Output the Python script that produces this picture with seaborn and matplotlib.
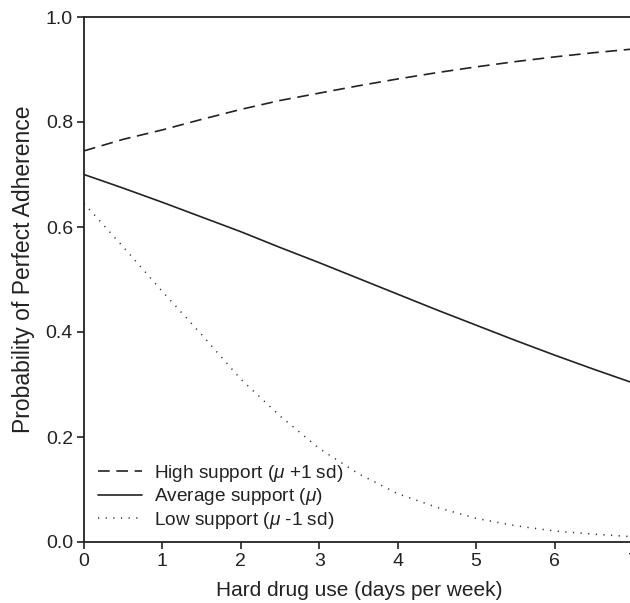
import matplotlib
matplotlib.use("Agg")
import matplotlib.pyplot as plt
import seaborn as sns
import pandas as pd

days = [0, 0.5, 1, 1.5, 2, 2.5, 3, 3.5, 4, 4.5, 5, 5.5, 6, 6.5, 7]
high_support = [0.745, 0.767, 0.785, 0.805, 0.824, 0.841, 0.855, 0.869, 0.882, 0.894, 0.905, 0.915, 0.924, 0.932, 0.939]
avg_support = [0.700, 0.674, 0.647, 0.619, 0.591, 0.561, 0.532, 0.502, 0.472, 0.442, 0.413, 0.384, 0.356, 0.329, 0.303]
low_support = [0.645, 0.562, 0.477, 0.395, 0.310, 0.240, 0.178, 0.130, 0.092, 0.066, 0.045, 0.031, 0.021, 0.015, 0.010]

labels = [r"High support ($\mu$ +1 sd)", r"Average support ($\mu$)", r"Low support ($\mu$ -1 sd)"]
x_ticks = [0, 1, 2, 3, 4, 5, 6, 7]
y_ticks = [0.0, 0.2, 0.4, 0.6, 0.8, 1.0]

sns.set_style("ticks")
plt.rcParams["font.family"] = ["Liberation Sans", "DejaVu Sans"]
plt.rcParams["mathtext.fontset"] = "custom"
plt.rcParams["mathtext.it"] = "Liberation Sans:italic"
plt.rcParams["mathtext.rm"] = "Liberation Sans"

fig = plt.figure(figsize=(6.30, 6.03), dpi=100)
ax = fig.add_axes([84 / 630, 1 - 542 / 603, (633 - 84) / 630, (542 - 17) / 603])

styles = [(0, (7, 4)), "-", (0, (0.8, 4.2))]
colors = ["#222222", "#222222", "#333333"]
widths = [1.2, 1.2, 1.1]
for vals, lab, ls, c, w in zip([high_support, avg_support, low_support], labels, styles, colors, widths):
    df = pd.DataFrame({"x": days, "y": vals})
    sns.lineplot(data=df, x="x", y="y", ax=ax, color=c, linestyle=ls, linewidth=w, label=lab)

ax.set_xlim(0, 7)
ax.set_ylim(0, 1)
ax.set_xticks(x_ticks)
ax.set_yticks(y_ticks)
ax.set_yticklabels([f"{v:.1f}" for v in y_ticks])
ax.tick_params(direction="out", length=5, width=1.2, labelsize=14, colors="#222222", pad=3)
for s in ["left", "bottom", "top"]:
    ax.spines[s].set_linewidth(1.3)
    ax.spines[s].set_color("#222222")
ax.spines["right"].set_visible(False)

ax.set_xlabel("Hard drug use (days per week)", fontsize=15, color="#222222")
ax.xaxis.set_label_coords(((213 + 505) / 2 - 84) / 549, -(591 - 542) / 525)
ax.xaxis.label.set_va("center")
ax.set_ylabel("Probability of Perfect Adherence", fontsize=16.5, color="#222222")
ax.yaxis.set_label_coords(-(84 - 24) / 549, (542 - 269) / 525)
ax.yaxis.label.set_va("center")

leg = ax.legend(loc="lower left", frameon=False, fontsize=13.7, handlelength=2.3,
                handletextpad=0.62, labelspacing=0.14, borderaxespad=0, borderpad=0,
                bbox_to_anchor=((98 - 84) / 549, (542 - 531) / 525))
for t in leg.get_texts():
    t.set_color("#222222")

fig.savefig("out.png", dpi=100)
